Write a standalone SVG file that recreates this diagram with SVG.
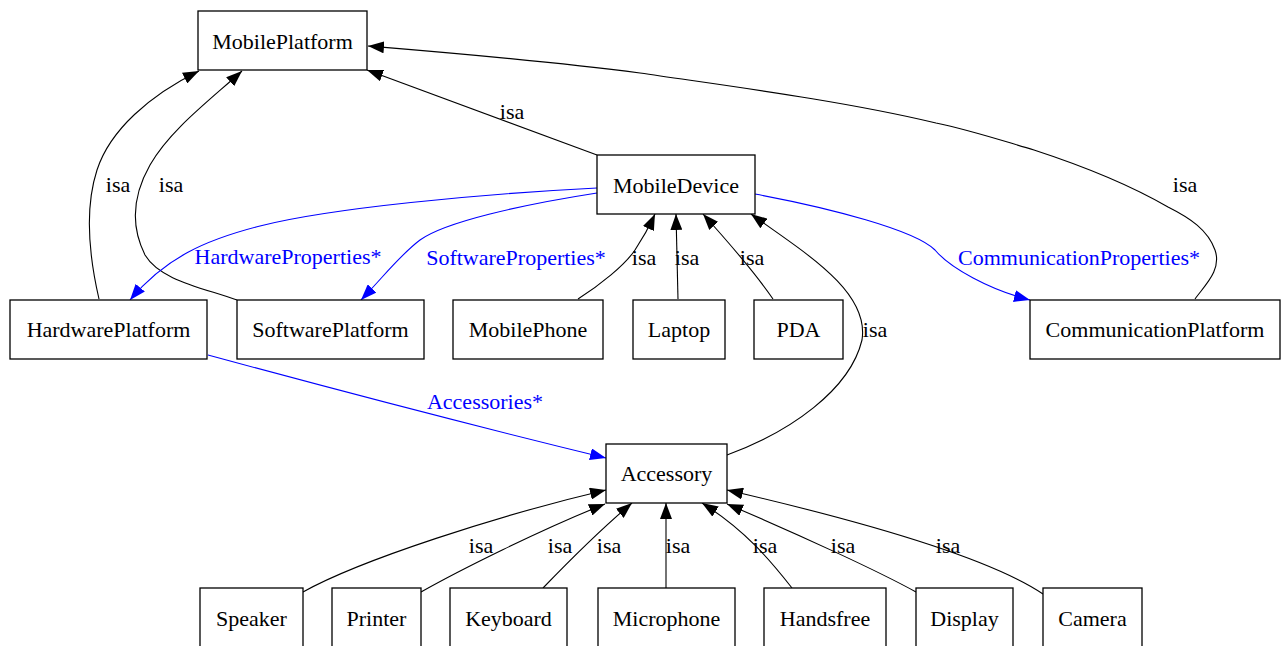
<svg xmlns="http://www.w3.org/2000/svg" width="1282" height="646" viewBox="0 0 1282 646">
<style>
.node rect{fill:#fff;stroke:#000;stroke-width:1.3}
.node text{font-family:"Liberation Serif","Times New Roman",serif;font-size:22px;text-anchor:middle;fill:#000}
.edge path{fill:none;stroke-width:1.1}
.isa path{stroke:#000}
.rel path{stroke:#0000ff}
.lbl{font-family:"Liberation Serif","Times New Roman",serif;font-size:22px;text-anchor:middle}
.isa .lbl{fill:#000}
.rel .lbl{fill:#0000ff}
</style>
<defs>
<marker id="ab" viewBox="0 0 16 12" refX="16" refY="6" markerWidth="16" markerHeight="12" markerUnits="userSpaceOnUse" orient="auto"><path d="M0,0 L16,6 L0,12 z" fill="#000"/></marker>
<marker id="au" viewBox="0 0 16 12" refX="16" refY="6" markerWidth="16" markerHeight="12" markerUnits="userSpaceOnUse" orient="auto"><path d="M0,0 L16,6 L0,12 z" fill="#0000ff"/></marker>
</defs>
<rect width="1282" height="646" fill="#fff"/>
<g id="connectors">
<g class="edge isa">
<path marker-end="url(#ab)" d="M597,155 L367,70"/>
<text class="lbl" x="512" y="119">isa</text>
<path marker-end="url(#ab)" d="M99,299 C90,260 84,210 97,170 C110,130 150,95 199,71"/>
<text class="lbl" x="118" y="192">isa</text>
<path marker-end="url(#ab)" d="M237,300 C200,287 160,280 145,255 C130,225 133,195 150,165 C170,130 210,100 242,71"/>
<text class="lbl" x="171" y="192">isa</text>
<path marker-end="url(#ab)" d="M1195,299 C1205,285 1222,270 1215,250 C1208,230 1190,218 1168,207 C1130,185 1080,165 1034,150 C1000,140 970,130 936,123 C840,100 720,85 640,73 C540,60 440,52 368,46"/>
<text class="lbl" x="1185" y="192">isa</text>
<path marker-end="url(#ab)" d="M578,299 C600,285 625,265 635,250 C645,235 650,225 655,214"/>
<text class="lbl" x="644" y="265">isa</text>
<path marker-end="url(#ab)" d="M678,299 L676,214"/>
<text class="lbl" x="687" y="265">isa</text>
<path marker-end="url(#ab)" d="M773,299 C760,280 740,255 703,214"/>
<text class="lbl" x="752" y="265">isa</text>
<path marker-end="url(#ab)" d="M727,455 C790,432 850,390 862,340 C870,290 800,250 751,214"/>
<text class="lbl" x="875" y="337">isa</text>
<path marker-end="url(#ab)" d="M303,592 C360,560 500,515 606,490"/>
<text class="lbl" x="481" y="553">isa</text>
<path marker-end="url(#ab)" d="M421,592 C460,570 540,530 605,504"/>
<text class="lbl" x="560" y="553">isa</text>
<path marker-end="url(#ab)" d="M543,588 C570,560 600,530 632,503"/>
<text class="lbl" x="609" y="553">isa</text>
<path marker-end="url(#ab)" d="M666,588 L666,503"/>
<text class="lbl" x="678" y="553">isa</text>
<path marker-end="url(#ab)" d="M792,588 C770,560 745,530 702,503"/>
<text class="lbl" x="765" y="553">isa</text>
<path marker-end="url(#ab)" d="M916,592 C880,572 800,535 727,504"/>
<text class="lbl" x="843" y="553">isa</text>
<path marker-end="url(#ab)" d="M1043,594 C1000,565 900,530 727,490"/>
<text class="lbl" x="948" y="553">isa</text>
</g>
<g class="edge rel">
<path marker-end="url(#au)" d="M597,188 C480,194 330,208 260,226 C205,240 165,258 130,300"/>
<text class="lbl" x="288" y="264">HardwareProperties*</text>
<path marker-end="url(#au)" d="M597,193 C520,205 445,222 420,240 C400,255 385,275 361,300"/>
<text class="lbl" x="516" y="265">SoftwareProperties*</text>
<path marker-end="url(#au)" d="M755,194 C830,208 915,230 935,250 C950,268 990,290 1030,300"/>
<text class="lbl" x="1079" y="265">CommunicationProperties*</text>
<path marker-end="url(#au)" d="M208,355 C300,380 450,420 606,458"/>
<text class="lbl" x="485" y="409">Accessories*</text>
</g>
</g>
<g id="MobilePlatform" class="node"><rect x="198" y="11" width="169" height="59"/><text x="282.5" y="49">MobilePlatform</text></g>
<g id="MobileDevice" class="node"><rect x="597" y="155" width="158" height="59"/><text x="676" y="193">MobileDevice</text></g>
<g id="HardwarePlatform" class="node"><rect x="10" y="300" width="197" height="59"/><text x="108.5" y="337">HardwarePlatform</text></g>
<g id="SoftwarePlatform" class="node"><rect x="237" y="300" width="187" height="59"/><text x="330.5" y="337">SoftwarePlatform</text></g>
<g id="MobilePhone" class="node"><rect x="453" y="300" width="150" height="59"/><text x="528" y="337">MobilePhone</text></g>
<g id="Laptop" class="node"><rect x="633" y="300" width="92" height="59"/><text x="679" y="337">Laptop</text></g>
<g id="PDA" class="node"><rect x="754" y="300" width="89" height="59"/><text x="798.5" y="337">PDA</text></g>
<g id="CommunicationPlatform" class="node"><rect x="1030" y="300" width="250" height="59"/><text x="1155" y="337">CommunicationPlatform</text></g>
<g id="Accessory" class="node"><rect x="606" y="444" width="121" height="59"/><text x="666.5" y="481">Accessory</text></g>
<g id="Speaker" class="node"><rect x="200" y="588" width="103" height="59"/><text x="251.5" y="626">Speaker</text></g>
<g id="Printer" class="node"><rect x="332" y="588" width="89" height="59"/><text x="376.5" y="626">Printer</text></g>
<g id="Keyboard" class="node"><rect x="450" y="588" width="117" height="59"/><text x="508.5" y="626">Keyboard</text></g>
<g id="Microphone" class="node"><rect x="598" y="588" width="137" height="59"/><text x="666.5" y="626">Microphone</text></g>
<g id="Handsfree" class="node"><rect x="764" y="588" width="122" height="59"/><text x="825" y="626">Handsfree</text></g>
<g id="Display" class="node"><rect x="916" y="588" width="97" height="59"/><text x="964.5" y="626">Display</text></g>
<g id="Camera" class="node"><rect x="1043" y="588" width="99" height="59"/><text x="1092.5" y="626">Camera</text></g>
</svg>
